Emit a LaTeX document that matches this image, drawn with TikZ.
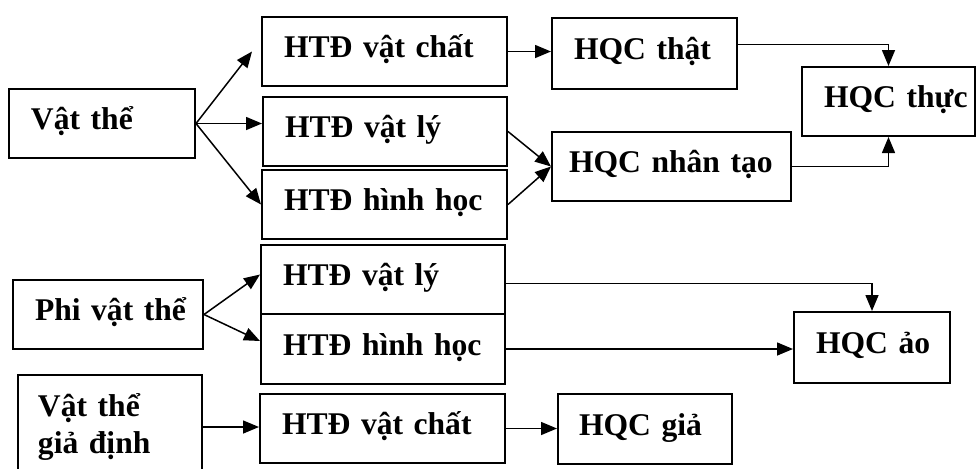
\documentclass[tikz,border=0pt]{standalone}
\usepackage{fontspec}
\setmainfont{Liberation Serif}
\usetikzlibrary{arrows.meta}

\begin{document}
\begin{tikzpicture}[x=0.5pt, y=-0.5pt,
    box/.style={draw, line width=1pt, anchor=north west, align=left,
      inner xsep=11pt, inner ysep=0pt, minimum height=34.5pt,
      text height=11pt, text depth=4.6pt,
      font=\bfseries\fontsize{15.8}{18.5}\selectfont},
    arr/.style={line width=0.75pt, -{Triangle[length=8pt,width=6.5pt]}}]
  \useasboundingbox (0,0) rectangle (976,468);

  % vat the
  \node[box, text width=71pt] (vatthe) at (8,88) {Vật~thể};
  \node[box, text width=100.5pt] (htdvc) at (261,16) {HTĐ~vật~chất};
  \node[box, text width=100pt] (htdvl) at (262,96) {HTĐ~vật~lý};
  \node[box, text width=100.5pt] (htdhh) at (261,169) {HTĐ~hình~học};
  \node[box, text width=70.5pt, minimum height=35.5pt] (hqcthat) at (551,17) {HQC~thật};
  \node[box, inner xsep=8.5pt, text width=102.5pt] (hqcnt) at (551,131) {HQC~nhân~tạo};
  \node[box, text width=64.5pt] (hqcthuc) at (801,66) {HQC~thực};

  \draw[arr] (vatthe.east) -- ([xshift=-4.5pt]htdvc.west);
  \draw[arr] (vatthe.east) -- (vatthe.east -| htdvl.west);
  \draw[arr] (vatthe.east) -- (htdhh.west);
  \draw[arr] (htdvc.east) -- (htdvc.east -| hqcthat.west);
  \draw[arr] (htdvl.east) -- (hqcnt.west);
  \draw[arr] (htdhh.east) -- (hqcnt.west);
  \draw[arr] ([yshift=4.5pt]hqcthat.east) -| (hqcthuc.north);
  \draw[arr] (hqcnt.east) -| (hqcthuc.south);

  % phi vat the
  \node[box, text width=73pt] (phivt) at (12,279) {Phi~vật~thể};
  \node[box, text width=100pt] (htdvl2) at (260,244) {HTĐ~vật~lý};
  \node[box, text width=100pt, minimum height=35pt] (htdhh2) at (260,313) {HTĐ~hình~học};
  \node[box, text width=56pt, minimum height=35.5pt] (hqcao) at (793,311) {HQC~ảo};

  \draw[arr] (phivt.east) -- ([yshift=2.5pt]htdvl2.west);
  \draw[arr] (phivt.east) -- ([yshift=4pt]htdhh2.west);
  \draw[arr] ([yshift=-2pt]htdvl2.east) -| (hqcao.north);
  \draw[arr] (htdhh2.east) -- (htdhh2.east -| hqcao.west);

  % vat the gia dinh
  \node[box, inner xsep=10pt, text width=72pt, minimum height=52pt,
    text depth=22pt] (vtgd) at (17,374) {Vật~thể\\giả~định};
  \node[box, text width=100.5pt] (htdvc3) at (259,393) {HTĐ~vật~chất};
  \node[box, inner xsep=10.5pt, text width=66pt, minimum height=35pt] (hqcgia) at (557,393) {HQC~giả};

  \draw[arr] (vtgd.east) -- (vtgd.east -| htdvc3.west);
  \draw[arr] (htdvc3.east) -- (htdvc3.east -| hqcgia.west);
\end{tikzpicture}
\end{document}
